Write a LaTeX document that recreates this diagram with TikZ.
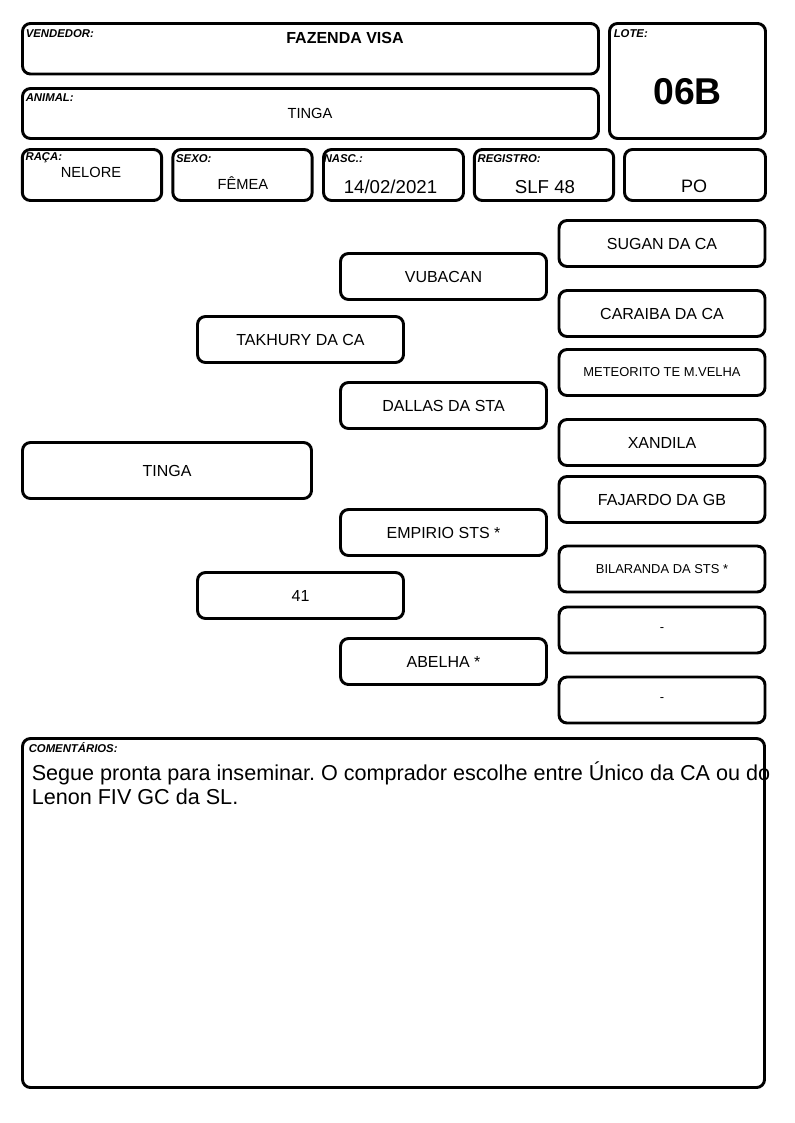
\documentclass[tikz,border=0pt]{standalone}
\usepackage{fontspec}
\setmainfont{Liberation Sans}
\usepackage{tikz}
\usetikzlibrary{positioning}
\frenchspacing

\begin{document}
\begin{tikzpicture}[
  x=0.75pt, y=-0.75pt,
  card/.style={draw, line width=2.2pt, rounded corners=6pt, inner sep=0pt},
  infobox/.style={card, minimum width=104.5pt, minimum height=38.25pt},
  ped/.style={card, minimum width=154.5pt, minimum height=34.5pt, font=\fontsize{12}{14}\selectfont},
  pedsmall/.style={ped, font=\fontsize{9.7}{11}\selectfont},
  tag/.style={anchor=west, inner sep=0pt, font=\fontsize{8.5}{9}\selectfont\bfseries\itshape},
  val/.style={anchor=base, inner sep=0pt, font=\fontsize{11}{13}\selectfont},
  bigval/.style={anchor=base, inner sep=0pt, font=\fontsize{14}{16}\selectfont}
]
  \useasboundingbox (0,0) rectangle (794,1123);

  % header
  \node[card, minimum width=432pt, minimum height=37.9pt] (vend) at (310.5,48.75) {};
  \node[card, minimum width=432pt, minimum height=37.5pt] (animal) at (310.5,113.5) {};
  \node[card, minimum width=117pt, minimum height=86.25pt] (lote) at (687.5,81) {};
  \node[infobox] (raca) at (92,175) {};
  \node[infobox] (sexo) at (242.5,175) {};
  \node[infobox, minimum width=105pt] (nasc) at (393.5,175) {};
  \node[infobox] (reg) at (544,175) {};
  \node[infobox, minimum width=105.75pt] (po) at (695,175) {};

  \node[tag] (vendtag) at ([shift={(4.5,12)}]vend.north west) {VENDEDOR:};
  \node[tag] (animaltag) at ([shift={(4.5,11)}]animal.north west) {ANIMAL:};
  \node[tag] (lotetag) at ([shift={(5.5,12)}]lote.north west) {LOTE:};
  \node[tag] (racatag) at ([shift={(4.5,9.5)}]raca.north west) {RAÇA:};
  \node[tag] (sexotag) at ([shift={(4.5,10.5)}]sexo.north west) {SEXO:};
  \node[tag] (nasctag) at ([shift={(1.5,10.5)}]nasc.north west) {NASC.:};
  \node[tag] (regtag) at ([shift={(4.5,10.5)}]reg.north west) {REGISTRO:};

  \node[val, font=\fontsize{12}{14}\selectfont\bfseries] (vendval) at (345,43.4) {FAZENDA VISA};
  \node[val] (animalval) at (310,118.3) {TINGA};
  \node[val, font=\fontsize{28}{30}\selectfont\bfseries] (loteval) at (687.5,104.4) {06B};
  \node[val] (racaval) at (91,177.3) {NELORE};
  \node[val] (sexoval) at (243,189.3) {FÊMEA};
  \node[bigval] (nascval) at (390.5,193.4) {14/02/2021};
  \node[bigval] (regval) at (545,193.4) {SLF 48};
  \node[bigval, font=\fontsize{13.5}{15}\selectfont] (poval) at (694,192.4) {PO};

  % pedigree
  \node[ped, minimum width=216.75pt, minimum height=42pt] (tinga) at (167,470.5) {TINGA};
  \node[ped] (takhury) at (300.5,339.5) {TAKHURY DA CA};
  \node[ped] (dam) at (300.5,595.5) {41};
  \node[ped] (vubacan) at (443.5,276.5) {VUBACAN};
  \node[ped] (dallas) at (443.5,405.5) {DALLAS DA STA};
  \node[ped] (empirio) at (443.5,532.5) {EMPIRIO STS *};
  \node[ped] (abelha) at (443.5,661.5) {ABELHA *};
  \node[ped] (sugan) at (662,243.5) {SUGAN DA CA};
  \node[ped] (caraiba) at (662,313.5) {CARAIBA DA CA};
  \node[pedsmall] (meteorito) at (662,372.5) {METEORITO TE M.VELHA};
  \node[ped] (xandila) at (662,442.5) {XANDILA};
  \node[ped] (fajardo) at (662,499.5) {FAJARDO DA GB};
  \node[pedsmall] (bilaranda) at (662,569) {BILARANDA DA STS *};
  \node[pedsmall] (blankA) at (662,630) {-};
  \node[pedsmall] (blankB) at (662,700) {-};

  % comments
  \node[card, minimum width=556.5pt, minimum height=261.75pt] (coment) at (393.5,913) {};
  \node[tag] (comenttag) at ([shift={(7.5,10.5)}]coment.north west) {COMENTÁRIOS:};
  \node[anchor=base west, inner sep=0pt, align=left, font=\fontsize{16.2}{18}\selectfont] (comenttext) at (31.5,804)
    {Segue pronta para inseminar. O comprador escolhe entre Único da CA ou do\\Lenon FIV GC da SL.};
\end{tikzpicture}
\end{document}
